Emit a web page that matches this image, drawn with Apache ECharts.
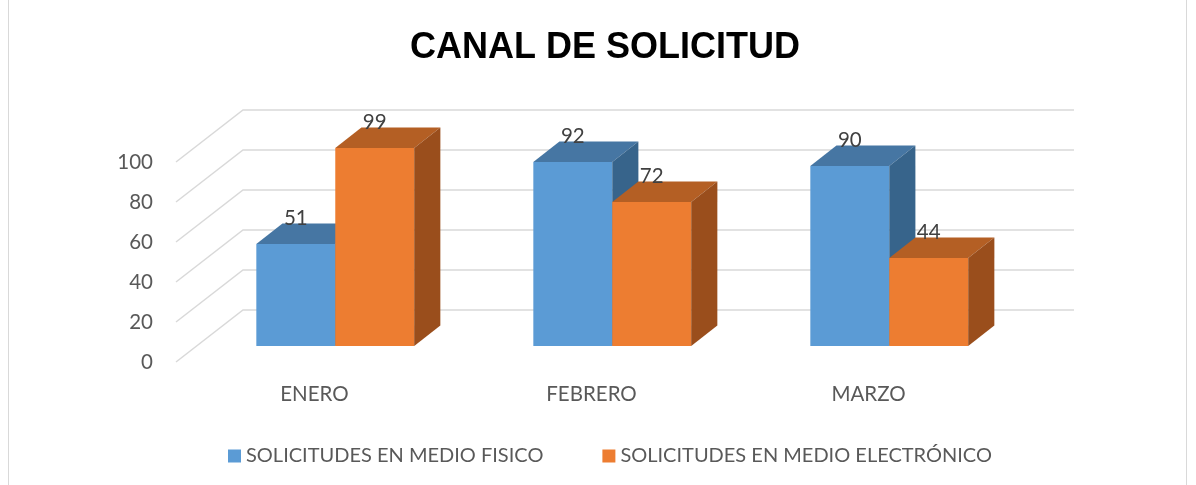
<!DOCTYPE html>
<html>
<head>
<meta charset="utf-8">
<title>Canal de solicitud</title>
<script src="https://cdn.jsdelivr.net/npm/echarts@6/dist/echarts.min.js"></script>
<style>
  html, body { margin: 0; padding: 0; background: #fff; }
  #chart { width: 1196px; height: 485px; }
</style>
</head>
<body>
<div id="chart"></div>
<script>
// datos
var categories = ['ENERO', 'FEBRERO', 'MARZO']
var fisico = [51, 92, 90]
var electronico = [99, 72, 44]
var ticks = [0, 20, 40, 60, 80, 100]
var seriesNames = ['SOLICITUDES EN MEDIO FISICO', 'SOLICITUDES EN MEDIO ELECTRÓNICO']

// perspectiva 3D: desplazamiento de la pared de fondo respecto al plano frontal
var DEPTH = [67, -52]
var BAR_FRONT = 0.31   // fraccion de profundidad donde empieza la barra
var BAR_BACK = 0.70    // fraccion donde termina
var BAR_W = 0.285      // ancho de cada barra respecto a la banda

var textFont = 'Lato, "Open Sans", sans-serif'

var colors = {
  fisico: { front: '#5B9BD5', top: '#4676A3', side: '#37648B' },
  electronico: { front: '#ED7D31', top: '#B45F24', side: '#9A4E1C' }
}

// paredes: lineas diagonales a la izquierda y horizontales al fondo
function renderWalls (params, api) {
  var cs = params.coordSys
  var y = api.coord([0, api.value(1)])[1]
  var x0 = cs.x
  var x1 = cs.x + cs.width
  return {
    type: 'polyline',
    shape: {
      points: [[x0, y], [x0 + DEPTH[0], y + DEPTH[1]], [x1 + DEPTH[0], y + DEPTH[1]]]
    },
    style: { stroke: '#D9D9D9', lineWidth: 1.5, fill: null },
    silent: true
  }
}

function makeBarRenderer (pal, side) {
  return function (params, api) {
    var idx = api.value(0)
    var val = api.value(1)
    var base = api.coord([idx, 0])
    var top = api.coord([idx, val])
    var band = api.size([1, 0])[0]
    var w = band * BAR_W
    var fx = DEPTH[0] * BAR_FRONT
    var fy = DEPTH[1] * BAR_FRONT
    var dx = DEPTH[0] * (BAR_BACK - BAR_FRONT)
    var dy = DEPTH[1] * (BAR_BACK - BAR_FRONT)
    var left = base[0] + fx + (side === 0 ? -w : 0)
    var right = left + w
    var yb = base[1] + fy
    var yt = top[1] + fy
    return {
      type: 'group',
      children: [
        {
          type: 'rect',
          shape: { x: left, y: yt, width: w, height: yb - yt },
          style: { fill: pal.front }
        },
        {
          type: 'polygon',
          shape: { points: [[left, yt], [left + dx, yt + dy], [right + dx, yt + dy], [right, yt]] },
          style: { fill: pal.top }
        },
        {
          type: 'polygon',
          shape: { points: [[right, yt], [right + dx, yt + dy], [right + dx, yb + dy], [right, yb]] },
          style: { fill: pal.side }
        },
        {
          type: 'text',
          style: {
            text: String(val),
            x: (left + right) / 2,
            y: yt - 25,
            align: 'center',
            verticalAlign: 'middle',
            fontSize: 20.5,
            fontFamily: textFont,
            fill: '#404040'
          }
        }
      ]
    }
  }
}

var chart = echarts.init(document.getElementById('chart'))

chart.setOption({
  animation: false,
  backgroundColor: '#fff',
  title: {
    text: 'CANAL DE SOLICITUD',
    left: 405,
    top: 25,
    textStyle: {
      fontFamily: '"Liberation Sans", Arial, sans-serif',
      fontWeight: 'bold',
      fontSize: 36,
      color: '#000'
    }
  },
  legend: {
    data: seriesNames,
    left: 223,
    top: 441,
    icon: 'rect',
    itemWidth: 13,
    itemHeight: 13,
    itemGap: 59,
    selectedMode: false,
    textStyle: { fontFamily: textFont, fontSize: 20, color: '#595959' }
  },
  graphic: [{
    type: 'rect',
    shape: { x: 8.5, y: -1, width: 1178, height: 487 },
    style: { fill: null, stroke: '#D9D9D9', lineWidth: 1 },
    silent: true
  }],
  grid: { left: 176, right: 189, top: 162, bottom: 123 },
  xAxis: {
    type: 'category',
    data: categories,
    axisLine: { show: false },
    axisTick: { show: false },
    axisLabel: { margin: 22, fontFamily: textFont, fontSize: 20.5, color: '#595959' }
  },
  yAxis: {
    type: 'value',
    min: 0,
    max: 100,
    interval: 20,
    axisLine: { show: false },
    axisTick: { show: false },
    splitLine: { show: false },
    axisLabel: { margin: 23, fontFamily: textFont, fontSize: 20.5, color: '#595959' }
  },
  series: [
    {
      type: 'custom',
      name: 'walls',
      silent: true,
      clip: false,
      z: 1,
      renderItem: renderWalls,
      data: ticks.map(function (t) { return [0, t] })
    },
    {
      type: 'custom',
      name: seriesNames[0],
      clip: false,
      z: 2,
      itemStyle: { color: colors.fisico.front },
      renderItem: makeBarRenderer(colors.fisico, 0),
      data: fisico.map(function (v, i) { return [i, v] })
    },
    {
      type: 'custom',
      name: seriesNames[1],
      clip: false,
      z: 3,
      itemStyle: { color: colors.electronico.front },
      renderItem: makeBarRenderer(colors.electronico, 1),
      data: electronico.map(function (v, i) { return [i, v] })
    }
  ]
})
</script>
</body>
</html>
